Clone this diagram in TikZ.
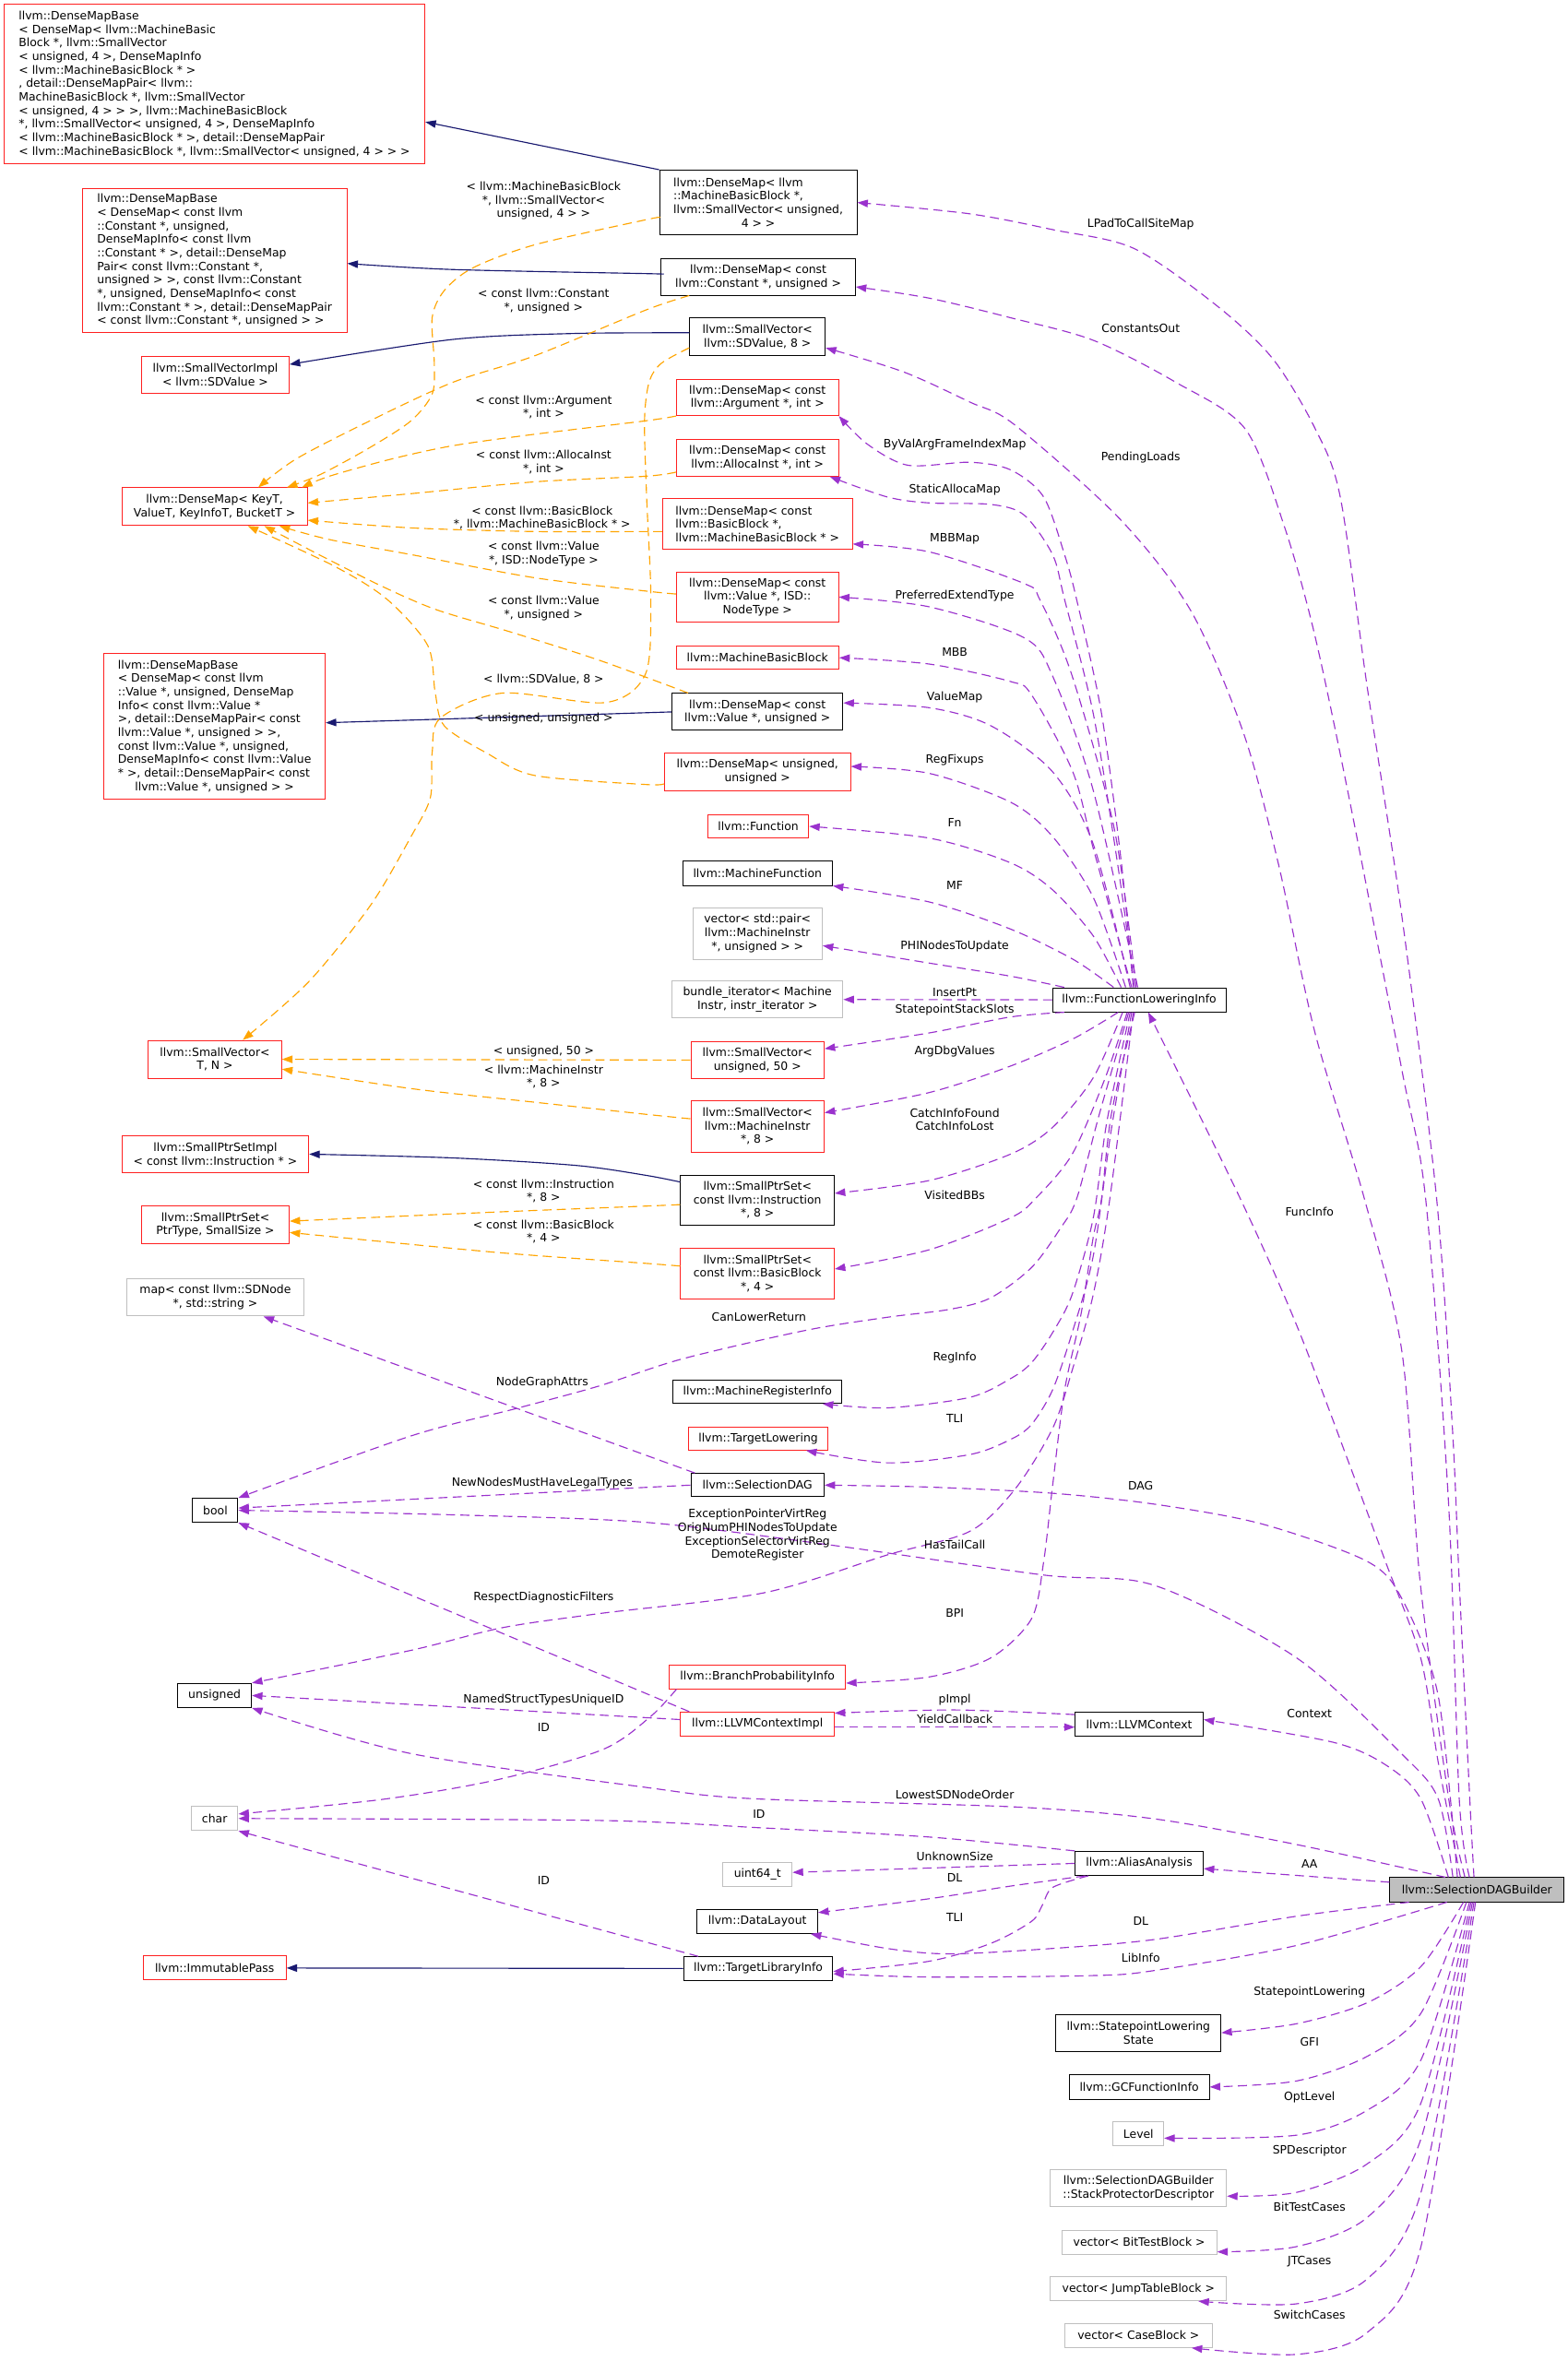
\documentclass[tikz,border=0pt]{standalone}
\usepackage{fontspec}
\setmainfont{DejaVu Sans}
\usetikzlibrary{arrows.meta,calc}
\definecolor{inhblue}{HTML}{191970}
\definecolor{tmplor}{HTML}{FFA500}
\definecolor{usepur}{HTML}{9A32CD}
\definecolor{boxgray}{HTML}{BFBFBF}
\definecolor{sdbfill}{HTML}{BFBFBF}
\definecolor{redbox}{HTML}{FF2020}
\newcommand{\fs}{\fontsize{7.6}{9}\selectfont}
\tikzset{
  box/.style={draw, line width=0.6pt, inner sep=1pt, font=\fs, align=center, anchor=center},
  rbox/.style={box, draw=redbox},
  kbox/.style={box, draw=black},
  gbox/.style={box, draw=boxgray},
  tip/.style={-{Triangle[length=7pt,width=5pt]}},
  inh/.style={tip, draw=inhblue, line width=0.7pt},
  tmpl/.style={tip, draw=tmplor, line width=0.7pt, dash pattern=on 6pt off 3.5pt},
  use/.style={tip, draw=usepur, line width=0.7pt, dash pattern=on 6pt off 3.5pt},
  lbl/.style={font=\fs, align=center, inner sep=0pt}
}
\begin{document}
\begin{tikzpicture}[x=1pt,y=-1pt]
\fill[white] (0,0) rectangle (1041,1568);
\useasboundingbox (0,0) rectangle (1041,1568);

% ---------------- left column ----------------
\node[rbox, align=left, minimum width=279.5, minimum height=106] (N1) at (142.4,56) {llvm::DenseMapBase\\< DenseMap< llvm::MachineBasic\\Block *, llvm::SmallVector\\< unsigned, 4 >, DenseMapInfo\\< llvm::MachineBasicBlock * >\\, detail::DenseMapPair< llvm::\\MachineBasicBlock *, llvm::SmallVector\\< unsigned, 4 > > >, llvm::MachineBasicBlock\\ *, llvm::SmallVector< unsigned, 4 >, DenseMapInfo\\< llvm::MachineBasicBlock * >, detail::DenseMapPair\\< llvm::MachineBasicBlock *, llvm::SmallVector< unsigned, 4 > > >};
\node[rbox, align=left, minimum width=175.7, minimum height=96] (N2) at (142.5,173) {llvm::DenseMapBase\\< DenseMap< const llvm\\::Constant *, unsigned,\\ DenseMapInfo< const llvm\\::Constant * >, detail::DenseMap\\Pair< const llvm::Constant *,\\ unsigned > >, const llvm::Constant\\ *, unsigned, DenseMapInfo< const\\ llvm::Constant * >, detail::DenseMapPair\\ < const llvm::Constant *, unsigned > >};
\node[rbox, minimum width=98, minimum height=24] (N3) at (143,249) {llvm::SmallVectorImpl\\< llvm::SDValue >};
\node[rbox, minimum width=123, minimum height=25] (N4) at (142.5,336.5) {llvm::DenseMap< KeyT,\\ ValueT, KeyInfoT, BucketT >};
\node[rbox, align=left, minimum width=147, minimum height=97] (N5) at (142.5,482.5) {llvm::DenseMapBase\\< DenseMap< const llvm\\::Value *, unsigned, DenseMap\\Info< const llvm::Value *\\ >, detail::DenseMapPair< const\\ llvm::Value *, unsigned > >,\\ const llvm::Value *, unsigned,\\ DenseMapInfo< const llvm::Value\\ * >, detail::DenseMapPair< const\\\null\hfil llvm::Value *, unsigned > >};
\node[rbox, minimum width=88.5, minimum height=25] (N6) at (142.7,703.5) {llvm::SmallVector<\\ T, N >};
\node[rbox, minimum width=124, minimum height=25] (N7) at (143,766.5) {llvm::SmallPtrSetImpl\\< const llvm::Instruction * >};
\node[rbox, minimum width=98, minimum height=25] (N8) at (143,813.5) {llvm::SmallPtrSet<\\ PtrType, SmallSize >};
\node[gbox, minimum width=118, minimum height=25] (N9) at (143,861.5) {map< const llvm::SDNode\\ *, std::string >};
\node[kbox, minimum width=30, minimum height=16] (bool) at (143,1003) {bool};
\node[kbox, minimum width=49, minimum height=16] (unsigned) at (142.5,1126) {unsigned};
\node[gbox, minimum width=31, minimum height=16] (char) at (142.5,1207.7) {char};
\node[rbox, minimum width=95, minimum height=16] (N13) at (142.5,1307) {llvm::ImmutablePass};

% ---------------- middle column ----------------
\node[kbox, align=left, minimum width=131, minimum height=43] (M1) at (503.5,134.5) {llvm::DenseMap< llvm\\::MachineBasicBlock *,\\ llvm::SmallVector< unsigned,\\\null\hfil 4 > >};
\node[kbox, minimum width=129, minimum height=24] (M2) at (503.5,184) {llvm::DenseMap< const\\ llvm::Constant *, unsigned >};
\node[kbox, minimum width=90, minimum height=25] (M3) at (503,223.5) {llvm::SmallVector<\\ llvm::SDValue, 8 >};
\node[rbox, minimum width=107.5, minimum height=24] (M4) at (503,264) {llvm::DenseMap< const\\ llvm::Argument *, int >};
\node[rbox, minimum width=107.5, minimum height=24.5] (M5) at (503,304) {llvm::DenseMap< const\\ llvm::AllocaInst *, int >};
\node[rbox, align=left, minimum width=126, minimum height=34] (M6) at (503,348) {llvm::DenseMap< const\\ llvm::BasicBlock *,\\ llvm::MachineBasicBlock * >};
\node[rbox, minimum width=107.5, minimum height=33] (M7) at (503,396.5) {llvm::DenseMap< const\\ llvm::Value *, ISD::\\NodeType >};
\node[rbox, minimum width=108, minimum height=15.5] (M8) at (503,436.8) {llvm::MachineBasicBlock};
\node[kbox, minimum width=113.5, minimum height=24.5] (M9) at (503,472.8) {llvm::DenseMap< const\\ llvm::Value *, unsigned >};
\node[rbox, minimum width=123.5, minimum height=25] (M10) at (503,512.5) {llvm::DenseMap< unsigned,\\ unsigned >};
\node[rbox, minimum width=67, minimum height=15.6] (M11) at (503.5,548.8) {llvm::Function};
\node[kbox, minimum width=99.5, minimum height=16] (M12) at (503,580) {llvm::MachineFunction};
\node[gbox, minimum width=86, minimum height=34] (M13) at (503,620) {vector< std::pair<\\ llvm::MachineInstr\\ *, unsigned > >};
\node[gbox, minimum width=113.5, minimum height=24.5] (M14) at (503,663.8) {bundle\_iterator< Machine\\Instr, instr\_iterator >};
\node[rbox, minimum width=88.5, minimum height=24] (M15) at (503,704) {llvm::SmallVector<\\ unsigned, 50 >};
\node[rbox, minimum width=88.5, minimum height=34] (M16) at (503,748) {llvm::SmallVector<\\ llvm::MachineInstr\\ *, 8 >};
\node[kbox, minimum width=102, minimum height=33] (M17) at (503,797) {llvm::SmallPtrSet<\\ const llvm::Instruction\\ *, 8 >};
\node[rbox, minimum width=102, minimum height=33.6] (M18) at (503,845.8) {llvm::SmallPtrSet<\\ const llvm::BasicBlock\\ *, 4 >};
\node[kbox, minimum width=112, minimum height=15.4] (M19) at (503,924.3) {llvm::MachineRegisterInfo};
\node[rbox, minimum width=93, minimum height=15] (M20) at (503.5,955.5) {llvm::TargetLowering};
\node[kbox, minimum width=88.5, minimum height=15.5] (M21) at (503,986.3) {llvm::SelectionDAG};
\node[rbox, minimum width=117, minimum height=15.5] (M22) at (503,1113.8) {llvm::BranchProbabilityInfo};
\node[rbox, minimum width=102, minimum height=16] (M23) at (503,1145) {llvm::LLVMContextImpl};
\node[kbox, minimum width=80, minimum height=16] (DLy) at (503,1276) {llvm::DataLayout};
\node[gbox, minimum width=46, minimum height=16] (U64) at (503,1245) {uint64\_t};
\node[kbox, minimum width=99, minimum height=15.5] (TLIb) at (503.5,1307.3) {llvm::TargetLibraryInfo};

% ---------------- right-middle column ----------------
\node[kbox, minimum width=115, minimum height=16] (FLI) at (756.5,664) {llvm::FunctionLoweringInfo};
\node[kbox, minimum width=85, minimum height=16] (M24) at (756.5,1145) {llvm::LLVMContext};
\node[kbox, minimum width=85, minimum height=16] (AA) at (756.5,1237.5) {llvm::AliasAnalysis};
\node[kbox, minimum width=109.5, minimum height=24.5] (SLS) at (756,1350) {llvm::StatepointLowering\\State};
\node[kbox, minimum width=93, minimum height=16.5] (GCFI) at (756.5,1386) {llvm::GCFunctionInfo};
\node[gbox, minimum width=33.5, minimum height=16] (LVL) at (756,1417) {Level};
\node[gbox, minimum width=117, minimum height=24.5] (SPD) at (756,1453) {llvm::SelectionDAGBuilder\\::StackProtectorDescriptor};
\node[gbox, minimum width=103, minimum height=16] (BTB) at (756.5,1489) {vector< BitTestBlock >};
\node[gbox, minimum width=117, minimum height=16] (JTB) at (756,1520) {vector< JumpTableBlock >};
\node[gbox, minimum width=98, minimum height=16] (CB) at (756,1551) {vector< CaseBlock >};
\node[kbox, fill=sdbfill, minimum width=115.6, minimum height=16] (SDB) at (980.8,1255) {llvm::SelectionDAGBuilder};

% ---------------- inheritance edges ----------------
\draw[inh] (M1.north west) -- ($(N1.east)+(0,25)$);
\draw[inh] plot[smooth] coordinates {($(M2.west)+(0,-2)$) (428.6,181.7) (300.7,179) ($(N2.east)+(0,2)$)};
\draw[inh] plot[smooth] coordinates {($(M3.west)+(0,-2.5)$) (380,221.5) (300,225.5) ($(N3.east)+(0,-7)$)};
\draw[inh] (M9.west) -- ($(N5.east)+(0,-2.5)$);
\draw[inh] plot[smooth] coordinates {($(M17.west)+(0,-12)$) (428.6,780.5) (382.7,774) (300.7,769) (N7.east)};
\draw[inh] (TLIb.west) -- (N13.east);

% ---------------- template edges ----------------
\draw[tmpl] plot[smooth] coordinates {($(M1.west)+(0,10)$) (428.6,146) (355,162.6) (314,177.9) (295,193) (287,210.8) (288.4,241.4) (287,261.6) (273,279.4) (246,297) (213,315) ($(N4.north)+(48,0)$)};
\draw[tmpl] plot[smooth] coordinates {($(M2.south west)+(19,0)$) (428.6,206) (355,236.3) (300.7,253.9) (246,279.3) (196.8,304.7) ($(N4.north)+(29,0)$)};
\draw[tmpl] plot[smooth] coordinates {(M4.south west) (428.6,279.5) (355,288.4) (300.7,296) (259.7,304.9) (218.6,316.3) ($(N4.north)+(58,0)$)};
\draw[tmpl] plot[smooth] coordinates {($(M5.south west)+(0,-3)$) (428.6,316.3) (355,320) (273.4,327.8) ($(N4.east)+(0,-2.5)$)};
\draw[tmpl] plot[smooth] coordinates {($(M6.west)+(0,5)$) (428.6,353) (355,353) (273.4,350.6) ($(N4.east)+(0,9)$)};
\draw[tmpl] plot[smooth] coordinates {($(M7.west)+(0,-2)$) (428.6,392.5) (355,383.7) (273.4,368.4) (218.6,358.3) ($(N4.south)+(43,0)$)};
\draw[tmpl] plot[smooth] coordinates {($(M9.north west)+(11,0)$) (398,438.5) (340,420) (290,405) (255,390) (215,370) ($(N4.south)+(33,0)$)};
\draw[tmpl] plot[smooth] coordinates {($(M10.west)+(0,8)$) (428.6,521) (355,515) (323,500) (295,482) (289,460) (284,428.6) (257,398) (222,376) ($(N4.south)+(22,0)$)};
\draw[tmpl] plot[smooth] coordinates {($(M3.west)+(0,7.5)$) (439,241.4) (431,254) (428,279.4) (429.4,330) (432.2,398.4) (428.6,447.7) (402,466.6) (333.5,460.3) (292.5,476.8) (287,499.7) (285.7,530) (273,555.5) (246,601.3) (205,652) ($(N6.north)+(18.5,0)$)};
\draw[tmpl] (M15.west) -- (N6.east);
\draw[tmpl] plot[smooth] coordinates {($(M16.west)+(0,-5)$) (428.6,740) (355,732) (273.4,723) ($(N6.east)+(0,6.5)$)};
\draw[tmpl] plot[smooth] coordinates {($(M17.west)+(0,3)$) (428.6,801) (328,805) ($(N8.east)+(0,-2.5)$)};
\draw[tmpl] plot[smooth] coordinates {($(M18.west)+(0,-5)$) (428.6,839) (328,831.6) ($(N8.east)+(0,5)$)};

% ---------------- FLI top bundle ----------------
\draw[use] plot[smooth] coordinates {($(FLI.north)+(-4,0)$) (745,576) (731.5,474) (715,398.4) (707,368.6) (693,330) (671,312) (644,307) (603,309) (576,295) (M4.south east)};
\draw[use] plot[smooth] coordinates {($(FLI.north)+(-3,0)$) (742.5,576) (726,474) (707,398.4) (699,368.4) (680,342) (658,335) (617,334) (589,330) ($(M5.south east)+(-6,0)$)};
\draw[use] plot[smooth] coordinates {($(FLI.north)+(-2,0)$) (740,550.6) (712,449) (690.6,398.4) (680,387.5) (617,366.5) ($(M6.south east)+(0,-4)$)};
\draw[use] plot[smooth] coordinates {($(FLI.north)+(-1,0)$) (726,525) (699,449) (680,423.5) (617,403) (M7.east)};
\draw[use] plot[smooth] coordinates {($(FLI.north)+(-5,0)$) (726,563.5) (712.4,512.6) (685,461.5) (671,452.6) (617,441) (M8.east)};
\draw[use] plot[smooth] coordinates {($(FLI.north)+(-6,0)$) (726,560.7) (699,512.6) (658,482) (617,470) ($(M9.east)+(0,-6)$)};
\draw[use] plot[smooth] coordinates {($(FLI.north)+(-9,0)$) (726,596) (699,555.6) (671,532.7) (617,513.6) ($(M10.east)+(0,-3.5)$)};
\draw[use] plot[smooth] coordinates {($(FLI.north)+(-12,0)$) (726,621.6) (699,591) (671,573) (617,556.6) (M11.east)};
\draw[use] plot[smooth] coordinates {($(FLI.north)+(-17,0)$) (712.4,637) (671,617) (617,599) (M12.south east)};
\draw[use] plot[smooth] coordinates {($(FLI.north west)+(8,0)$) (671,648.3) (617,639.6) ($(M13.east)+(0,8)$)};
\draw[use] (FLI.west) -- (M14.east);

% ---------------- FLI bottom bundle ----------------
\draw[use] plot[smooth] coordinates {($(FLI.south west)+(8,0)$) (671,675.4) (617,686) ($(M15.east)+(0,-7.5)$)};
\draw[use] plot[smooth] coordinates {($(FLI.south)+(-14,0)$) (712.4,690) (671,708) (617,725.6) ($(M16.east)+(0,-9)$)};
\draw[use] plot[smooth] coordinates {($(FLI.south)+(-11,0)$) (726,715.7) (699,748.7) (671,766.5) (617,784) ($(M17.east)+(0,-4.5)$)};
\draw[use] plot[smooth] coordinates {($(FLI.south)+(-8,0)$) (734,715.7) (712,766.5) (687.6,796) (671,808.8) (617,830) ($(M18.east)+(0,-3)$)};
\draw[use] plot[smooth] coordinates {($(FLI.south)+(-7,0)$) (730,740) (715,796) (704,816) (685,841.8) (657.7,862) (630.4,869.6) (589.4,874.8) (534.6,883.6) (452.6,902.6) (398,920.4) (341.7,935.7) (273,953.6) (bool.north east)};
\draw[use] plot[smooth] coordinates {($(FLI.south)+(-6,0)$) (735,745) (726,808.8) (712,859.6) (699,885) (685,905) (671,915.6) (644,928) (589.4,935) ($(M19.south east)+(-13,0)$)};
\draw[use] plot[smooth] coordinates {($(FLI.south)+(-5,0)$) (738,750) (726,834) (712,885) (699,923) (685,946) (671,956) (644,966) (589.4,971.5) ($(M20.south east)+(-15,0)$)};
\draw[use] plot[smooth] coordinates {($(FLI.south)+(-4,0)$) (737,796) (726,859.6) (712,910) (699,948.6) (674,989) (644,1017) (589.4,1032.6) (507.4,1057.8) (398,1071.6) (333.5,1081) (273,1096) (unsigned.north east)};
\draw[use] plot[smooth] coordinates {($(FLI.south)+(-3,0)$) (738,740) (731.5,796) (726,821.5) (718,872) (707,923) (699,986.6) (693,1037.5) (685,1075) (658,1101) (617,1113.7) ($(M22.east)+(0,4)$)};

% ---------------- SDB top bundle ----------------
\draw[use] plot[smooth] coordinates {($(SDB.north)+(-2,0)$) (976,1194.5) (969,1050) (964.5,948.6) (954,796) (931,609) (908,457) (890,330) (873,284) (845,238) (808,203) (753,165) (699,152.5) (644,142) (M1.east)};
\draw[use] plot[smooth] coordinates {($(SDB.north)+(-5,0)$) (969,1194.5) (962,999.6) (946.7,796) (931,711) (896.5,533) (873,421.5) (853,350) (827,285) (781,254) (726,226) (671,211) (617,198) ($(M2.east)+(0,6.5)$)};
\draw[use] plot[smooth] coordinates {($(SDB.north)+(-8,0)$) (962,1194.5) (943,1050) (931,898) (906,796) (873,685) (849,574) (826,487.5) (791,406) (744,345) (673.6,282) (644,267) (600,247) ($(M3.east)+(0,7.5)$)};
\draw[use] plot[smooth] coordinates {($(SDB.north)+(-11,0)$) (955,1170) (943.4,1101) (920,1037) (896.5,973.6) (861,880) (823.6,796) ($(FLI.south)+(6,0)$)};
\draw[use] plot[smooth] coordinates {($(SDB.north)+(-13,0)$) (955,1126) (931.6,1063) (908,1037) (837.7,1012) (767,999) (699,991.7) (617,987.6) (M21.east)};
\draw[use] plot[smooth] coordinates {($(SDB.north)+(-16,0)$) (955,1194.5) (931,1165) (861,1101) (767,1053) (693,1046) (551,1026) (428.6,1011) (300,1006) (bool.east)};
\draw[use] plot[smooth] coordinates {($(SDB.north)+(-19,0)$) (943.4,1194.5) (920,1172) (885,1157) ($(M24.east)+(0,-3)$)};
\draw[use] plot[smooth] coordinates {($(SDB.north)+(-21,0)$) (861,1225) (767,1208) (673.6,1200) (499,1194.5) (428.6,1187) (273,1164.6) (unsigned.south east)};

% ---------------- SDB side/bottom ----------------
\draw[use] ($(SDB.west)+(0,-5)$) -- ($(AA.east)+(0,3.5)$);
\draw[use] plot[smooth] coordinates {($(SDB.south west)+(13,0)$) (861,1272.6) (767,1288) (699,1294) (630.4,1297.6) (589,1294) ($(DLy.south east)+(-5,0)$)};
\draw[use] plot[smooth] coordinates {($(SDB.south)+(-20,0)$) (861,1292) (767,1308.6) (726,1312) (617,1313) ($(TLIb.east)+(0,3.5)$)};
\draw[use] plot[smooth] coordinates {($(SDB.south)+(-9,0)$) (943.6,1306) (908,1330) (861,1344) (SLS.east)};
\draw[use] plot[smooth] coordinates {($(SDB.south)+(-7,0)$) (943.6,1337) (908,1365.6) (861,1382) (GCFI.east)};
\draw[use] plot[smooth] coordinates {($(SDB.south)+(-5,0)$) (943.6,1368) (908,1401.4) (861,1418) ($(LVL.east)+(0,3)$)};
\draw[use] plot[smooth] coordinates {($(SDB.south)+(-4,0)$) (943.6,1396.6) (908,1437) (861,1456) ($(SPD.east)+(0,5.5)$)};
\draw[use] plot[smooth] coordinates {($(SDB.south)+(-3,0)$) (943.6,1420.4) (908,1472.6) (861,1492) ($(BTB.east)+(0,6.5)$)};
\draw[use] plot[smooth] coordinates {($(SDB.south)+(-2,0)$) (943.6,1456) (908,1513.4) (861,1530) ($(JTB.south east)+(-19,0)$)};
\draw[use] plot[smooth] coordinates {($(SDB.south)+(-1,0)$) (943.6,1492) (908,1549) (861,1563.6) ($(CB.south east)+(-14,0)$)};

% ---------------- other usage edges ----------------
\draw[use] plot[smooth] coordinates {(AA.north west) (617,1220) (507.4,1214) (398,1209) (char.east)};
\draw[use] (AA.west) -- ($(U64.east)+(0,-1.5)$);
\draw[use] plot[smooth] coordinates {($(AA.south west)+(7,0)$) (671,1252.6) (617,1261) ($(DLy.north east)+(0,2.5)$)};
\draw[use] plot[smooth] coordinates {($(AA.south west)+(9,0)$) (699,1253.5) (692,1265.6) (685,1276) (658,1290.6) (617,1302.5) ($(TLIb.east)+(0,2)$)};
\draw[use] plot[smooth] coordinates {($(M24.north west)+(0,2)$) (634,1135.6) ($(M23.north east)+(0,1)$)};
\draw[use] ($(M23.east)+(0,2)$) -- ($(M24.west)+(0,2)$);
\draw[use] ($(M23.north west)+(6,0)$) -- (bool.south east);
\draw[use] ($(M23.west)+(0,-3)$) -- (unsigned.east);
\draw[use] plot[smooth] coordinates {($(M22.south west)+(5,0)$) (432,1140) (400,1162) (330,1182) (254,1195) ($(char.east)+(0,-3)$)};
\draw[use] (M21.west) -- ($(bool.east)+(0,-1.5)$);
\draw[use] ($(M21.north west)+(3,0)$) -- ($(N9.south)+(32,0)$);
\draw[use] ($(TLIb.north west)+(10,0)$) -- (char.south east);

% ---------------- template labels ----------------
\node[lbl] (t1) at (361,133.4) {< llvm::MachineBasicBlock\\*, llvm::SmallVector<\\unsigned, 4 > >};
\node[lbl] (t2) at (361,200) {< const llvm::Constant\\*, unsigned >};
\node[lbl] (t3) at (361,270.5) {< const llvm::Argument\\*, int >};
\node[lbl] (t4) at (361,307) {< const llvm::AllocaInst\\*, int >};
\node[lbl] (t5) at (360,344) {< const llvm::BasicBlock\\*, llvm::MachineBasicBlock * >};
\node[lbl] (t6) at (361,368) {< const llvm::Value\\*, ISD::NodeType >};
\node[lbl] (t7) at (361,404) {< const llvm::Value\\*, unsigned >};
\node[lbl] (t8) at (361,451) {< llvm::SDValue, 8 >};
\node[lbl] (t9) at (361,477) {< unsigned, unsigned >};
\node[lbl] (t10) at (361,698) {< unsigned, 50 >};
\node[lbl] (t11) at (361,715) {< llvm::MachineInstr\\*, 8 >};
\node[lbl] (t12) at (361,791) {< const llvm::Instruction\\*, 8 >};
\node[lbl] (t13) at (361,818) {< const llvm::BasicBlock\\*, 4 >};

% ---------------- usage labels ----------------
\node[lbl] (u1) at (757.5,149) {LPadToCallSiteMap};
\node[lbl] (u2) at (757.5,218) {ConstantsOut};
\node[lbl] (u3) at (757.5,304) {PendingLoads};
\node[lbl] (u4) at (634,295.5) {ByValArgFrameIndexMap};
\node[lbl] (u5) at (634,325) {StaticAllocaMap};
\node[lbl] (u6) at (634,358) {MBBMap};
\node[lbl] (u7) at (634,396) {PreferredExtendType};
\node[lbl] (u8) at (634,433) {MBB};
\node[lbl] (u9) at (634,463) {ValueMap};
\node[lbl] (u10) at (634,504.6) {RegFixups};
\node[lbl] (u11) at (634,546.6) {Fn};
\node[lbl] (u12) at (634,588) {MF};
\node[lbl] (u13) at (634,628.6) {PHINodesToUpdate};
\node[lbl] (u14) at (634,659) {InsertPt};
\node[lbl] (u15) at (634,671) {StatepointStackSlots};
\node[lbl] (u16) at (634,698) {ArgDbgValues};
\node[lbl] (u17) at (634,743.5) {CatchInfoFound\\CatchInfoLost};
\node[lbl] (u18) at (634,794) {VisitedBBs};
\node[lbl] (u19) at (504,874.6) {CanLowerReturn};
\node[lbl] (u20) at (634,901.8) {RegInfo};
\node[lbl] (u21) at (634,942) {TLI};
\node[lbl] (u22) at (757.5,987) {DAG};
\node[lbl] (u23) at (503,1019.5) {ExceptionPointerVirtReg\\OrigNumPHINodesToUpdate\\ExceptionSelectorVirtReg\\DemoteRegister};
\node[lbl] (u24) at (634,1026) {HasTailCall};
\node[lbl] (u25) at (634,1071) {BPI};
\node[lbl] (u26) at (634,1129) {pImpl};
\node[lbl] (u27) at (634,1141.6) {YieldCallback};
\node[lbl] (u28) at (634,1191.6) {LowestSDNodeOrder};
\node[lbl] (u29) at (360,918) {NodeGraphAttrs};
\node[lbl] (u30) at (360,985) {NewNodesMustHaveLegalTypes};
\node[lbl] (u31) at (361,1060.6) {RespectDiagnosticFilters};
\node[lbl] (u32) at (361,1128.6) {NamedStructTypesUniqueID};
\node[lbl] (u33) at (361,1147) {ID};
\node[lbl] (u34) at (504,1205) {ID};
\node[lbl] (u35) at (634,1233) {UnknownSize};
\node[lbl] (u36) at (634,1247) {DL};
\node[lbl] (u37) at (634,1273.5) {TLI};
\node[lbl] (u38) at (757.5,1276) {DL};
\node[lbl] (u39) at (757.5,1300) {LibInfo};
\node[lbl] (u40) at (361,1248.6) {ID};
\node[lbl] (u41) at (869.6,1238) {AA};
\node[lbl] (u42) at (869.6,1323) {StatepointLowering};
\node[lbl] (u43) at (869.6,1356) {GFI};
\node[lbl] (u44) at (869.6,1393) {OptLevel};
\node[lbl] (u45) at (869.6,1428.6) {SPDescriptor};
\node[lbl] (u46) at (869.6,1465.5) {BitTestCases};
\node[lbl] (u47) at (869.6,1502) {JTCases};
\node[lbl] (u48) at (869.6,1537) {SwitchCases};
\node[lbl] (u49) at (869.6,805) {FuncInfo};
\node[lbl] (u50) at (869.6,1138) {Context};
\end{tikzpicture}
\end{document}
